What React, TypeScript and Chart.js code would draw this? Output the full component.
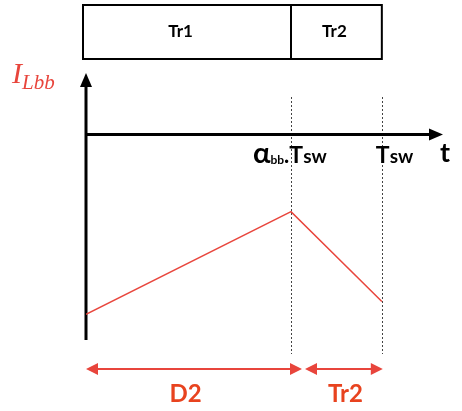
import React, { useEffect, useRef } from "react";
import { Chart, registerables } from "chart.js";

Chart.register(...registerables);

// ---- data ----
const timePoints = [0, 0.693, 1]; // 0, αbb·Tsw, Tsw (normalised to Tsw)
const currentValues = [0.5, 2.5, 0.75]; // inductor current I_Lbb
const tAxisLevel = 4; // level of the t axis
const phaseLabels = ["Tr1", "Tr2"];
const intervalLabels = ["D2", "Tr2"];
const xMax = 1.2;
const yMax = 5.2;

const RED = "#e8453c";
const ORANGE = "#e8431f";

const diagramPlugin = {
  id: "diagram",
  beforeDatasetsDraw(chart: any) {
    const { ctx, scales } = chart;
    const xs = scales.x;
    const ys = scales.y;
    const x0 = xs.getPixelForValue(timePoints[0]);
    const xa = xs.getPixelForValue(timePoints[1]);
    const x1 = xs.getPixelForValue(timePoints[2]);
    const xEnd = xs.getPixelForValue(xMax);
    const yAxis = ys.getPixelForValue(tAxisLevel);
    const yTop = ys.getPixelForValue(yMax);
    const yBot = ys.getPixelForValue(0);
    ctx.save();

    // dotted verticals
    ctx.strokeStyle = "#444";
    ctx.lineWidth = 1;
    ctx.setLineDash([2, 2]);
    [xa, x1].forEach((x) => {
      ctx.beginPath();
      ctx.moveTo(Math.round(x) + 0.5, yTop + 24);
      ctx.lineTo(Math.round(x) + 0.5, yBot + 14);
      ctx.stroke();
    });
    ctx.setLineDash([]);

    // axes
    ctx.strokeStyle = "#000";
    ctx.fillStyle = "#000";
    ctx.lineWidth = 3;
    ctx.beginPath();
    ctx.moveTo(x0, yBot);
    ctx.lineTo(x0, yTop + 10);
    ctx.stroke();
    ctx.beginPath();
    ctx.moveTo(x0 - 6, yTop + 14);
    ctx.lineTo(x0, yTop);
    ctx.lineTo(x0 + 6, yTop + 14);
    ctx.closePath();
    ctx.fill();

    ctx.beginPath();
    ctx.moveTo(x0, yAxis);
    ctx.lineTo(xEnd + 2 - 10, yAxis);
    ctx.stroke();
    ctx.beginPath();
    ctx.moveTo(xEnd + 2 - 14, yAxis - 6);
    ctx.lineTo(xEnd + 2, yAxis);
    ctx.lineTo(xEnd + 2 - 14, yAxis + 6);
    ctx.closePath();
    ctx.fill();

    // top box
    const bTop = yTop - 68;
    const bBot = yTop - 14;
    ctx.lineWidth = 2;
    ctx.strokeRect(x0 - 3, bTop, x1 - x0 + 3, bBot - bTop);
    ctx.beginPath();
    ctx.moveTo(xa, bTop);
    ctx.lineTo(xa, bBot);
    ctx.stroke();
    ctx.font = "bold 17px Lato";
    ctx.textAlign = "center";
    ctx.textBaseline = "middle";
    ctx.fillText(phaseLabels[0], (x0 + xa) / 2 - 8, (bTop + bBot) / 2);
    ctx.fillText(phaseLabels[1], (xa + x1) / 2 - 2, (bTop + bBot) / 2);

    ctx.restore();
  },
  afterDraw(chart: any) {
    const { ctx, scales } = chart;
    const xs = scales.x;
    const ys = scales.y;
    const x0 = xs.getPixelForValue(timePoints[0]);
    const xa = xs.getPixelForValue(timePoints[1]);
    const x1 = xs.getPixelForValue(timePoints[2]);
    const xEnd = xs.getPixelForValue(xMax);
    const yAxis = ys.getPixelForValue(tAxisLevel);
    const yTop = ys.getPixelForValue(yMax);
    const yBot = ys.getPixelForValue(0);
    ctx.save();
    ctx.textAlign = "left";
    ctx.textBaseline = "alphabetic";

    // rich label helper
    const drawRich = (parts: [string, string, number][], x: number, y: number) => {
      let cx = x;
      parts.forEach(([txt, font, dy]) => {
        ctx.font = font;
        ctx.fillText(txt, cx, y + dy);
        cx += ctx.measureText(txt).width;
      });
    };

    ctx.fillStyle = "#000";
    const base = yAxis + 28;
    drawRich(
      [
        ["α", "bold 29px Lato", 0],
        ["bb", "bold 12px Lato", 1],
        [".", "bold 22px Lato", 0],
        ["T", "bold 23px Lato", 0],
        ["sw", "bold 19px Lato", 0],
      ],
      xa - 38,
      base
    );
    drawRich(
      [
        ["T", "bold 23px Lato", 0],
        ["sw", "bold 19px Lato", 0],
      ],
      x1 - 6,
      base
    );
    ctx.font = "bold 27px Lato";
    ctx.fillText("t", xEnd - 1, base - 1);

    // I_Lbb
    ctx.fillStyle = RED;
    drawRich(
      [
        ["I", "italic 30px 'Liberation Serif'", 0],
        ["Lbb", "italic 21px 'Liberation Serif'", 6],
      ],
      12,
      yTop + 10
    );

    // interval arrows
    const ay = yBot + 29;
    const arrow = (a: number, b: number) => {
      ctx.strokeStyle = RED;
      ctx.fillStyle = RED;
      ctx.lineWidth = 2;
      ctx.beginPath();
      ctx.moveTo(a + 8, ay);
      ctx.lineTo(b - 8, ay);
      ctx.stroke();
      ctx.beginPath();
      ctx.moveTo(a, ay);
      ctx.lineTo(a + 12, ay - 6);
      ctx.lineTo(a + 12, ay + 6);
      ctx.closePath();
      ctx.fill();
      ctx.beginPath();
      ctx.moveTo(b, ay);
      ctx.lineTo(b - 12, ay - 6);
      ctx.lineTo(b - 12, ay + 6);
      ctx.closePath();
      ctx.fill();
    };
    arrow(x0, xa + 11);
    arrow(xa + 14, x1 + 1);

    ctx.fillStyle = ORANGE;
    ctx.font = "bold 24px Lato";
    ctx.textAlign = "center";
    ctx.textBaseline = "alphabetic";
    ctx.fillText(intervalLabels[0], (x0 + xa) / 2 - 3, ay + 33);
    ctx.fillText(intervalLabels[1], (xa + x1) / 2 + 9, ay + 33);
    ctx.restore();
  },
};

export default function App() {
  const ref = useRef<HTMLCanvasElement | null>(null);
  useEffect(() => {
    if (!ref.current) return;
    const chart = new Chart(ref.current, {
      type: "line",
      data: {
        datasets: [
          {
            data: timePoints.map((t, i) => ({ x: t, y: currentValues[i] })),
            borderColor: RED,
            borderWidth: 1.5,
            pointRadius: 0,
            tension: 0,
            fill: false,
          },
        ],
      },
      options: {
        animation: false,
        responsive: true,
        maintainAspectRatio: false,
        layout: { padding: { left: 86, right: 21, top: 73, bottom: 71 } },
        plugins: { legend: { display: false }, tooltip: { enabled: false } },
        scales: {
          x: { type: "linear", min: 0, max: xMax, display: false },
          y: { type: "linear", min: 0, max: yMax, display: false },
        },
      },
      plugins: [diagramPlugin],
    });
    return () => chart.destroy();
  }, []);
  return (
    <div style={{ position: "fixed", left: 0, top: 0, width: 462, height: 411, background: "#fff" }}>
      <canvas ref={ref} />
    </div>
  );
}
